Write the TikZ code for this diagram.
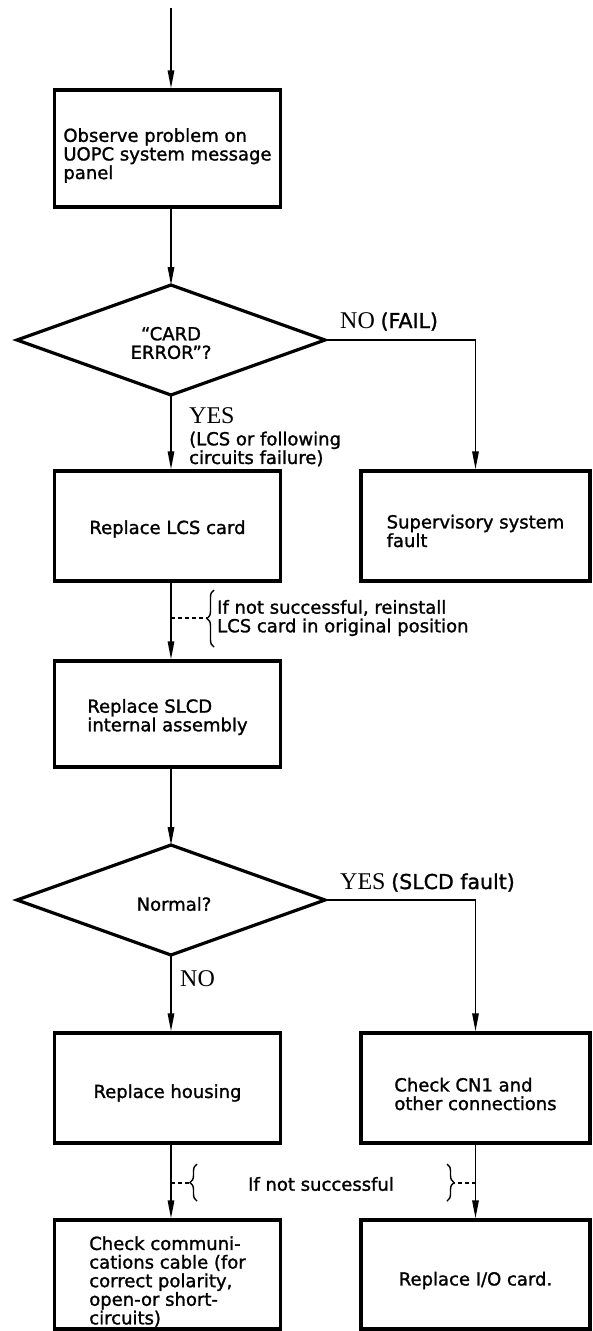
\documentclass[tikz,border=0pt]{standalone}
\usepackage{fontspec}
\setmainfont{DejaVu Sans}[FakeBold=1.4]
\newfontfamily\serf{Liberation Serif}
\usetikzlibrary{shapes.geometric,arrows.meta,decorations.pathreplacing}
\begin{document}
\begin{tikzpicture}[x=1pt,y=-1pt,
  txt/.style={font=\fontsize{18}{18.6}\selectfont},
  box/.style={draw,line width=3.4pt,minimum width=226pt,inner sep=0pt},
  rbox/.style={box,minimum width=229pt},
  btxt/.style={inner sep=0pt,align=left,txt},
  dia/.style={draw,diamond,shape aspect=2.8,line width=3.2pt,minimum width=308pt,minimum height=110pt,inner sep=0pt,outer sep=0pt},
  arr/.style={line width=1.5pt,-{Triangle[length=18pt,width=6.5pt]}},
  dsh/.style={line width=1.4pt,dash pattern=on 4pt off 3pt},
  brc/.style={line width=1.4pt,decorate,decoration={brace,amplitude=7pt}},
  lbl/.style={inner sep=0pt,anchor=west,align=left,txt},
  yn/.style={inner sep=0pt,anchor=base west,txt},
]
\useasboundingbox (0,0) rectangle (593,1331);
\newcommand{\yesno}[1]{{\serf\fontsize{24}{24}\selectfont #1}}
\newcommand{\lab}[1]{{\fontsize{20.5}{20.5}\selectfont #1}}

% boxes
\node[box,minimum height=117pt] (box1) at (167.5,148.5) {};
\node[btxt] (t1) at ([yshift=-7pt]box1.center) {Observe problem on\\UOPC system message\\panel};
\node[dia] (dia1) at (171,340) {};
\node[btxt,align=center] (td1) at ([yshift=-3pt]dia1.center) {``CARD\\ERROR''?};
\node[box,minimum height=110pt] (box2) at (167.5,526) {};
\node[btxt] (t2) at ([yshift=-3pt]box2.center) {Replace LCS card};
\node[rbox,minimum height=110pt] (box3) at (475.5,526) {};
\node[btxt] (t3) at ([yshift=-5pt]box3.center) {Supervisory system\\fault};
\node[box,minimum height=106pt] (box4) at (167.5,714) {};
\node[btxt] (t4) at ([yshift=-3pt]box4.center) {Replace SLCD\\internal assembly};
\node[dia] (dia2) at (171,900) {};
\node[btxt] (td2) at ([xshift=3pt,yshift=-4pt]dia2.center) {Normal?};
\node[box,minimum height=110pt] (box5) at (167.5,1088) {};
\node[btxt] (t5) at ([yshift=-5pt]box5.center) {Replace housing};
\node[rbox,minimum height=110pt] (box6) at (475.5,1088) {};
\node[btxt] (t6) at ([yshift=-6pt]box6.center) {Check CN1 and\\other connections};
\node[box,minimum height=109pt] (box7) at (167.5,1274.5) {};
\node[btxt] (t7) at ([yshift=-7pt]box7.center) {Check communi-\\cations cable (for\\correct polarity,\\open-or short-\\circuits)};
\node[rbox,minimum height=109pt] (box8) at (475.5,1274.5) {};
\node[btxt] (t8) at ([yshift=-6pt]box8.center) {Replace I/O card.};

% labels
\node[yn] (lno1) at (340,328) {\yesno{NO} \lab{(FAIL)}};
\node[lbl] (lyes1) at (189,416) {\yesno{YES}};
\node[lbl] (lcs) at (189,449) {(LCS or following\\circuits failure)};
\node[lbl] (reinst) at (217,618) {If not successful, reinstall\\LCS card in original position};
\node[yn] (lyes2) at (340,889) {\yesno{YES} \lab{(SLCD fault)}};
\node[lbl] (lno2) at (180,979) {\yesno{NO}};
\node[txt,inner sep=0pt] (notsucc) at (321,1184) {If not successful};

% connectors
\coordinate (start) at (171,8);
\draw[arr] (start) -- (start |- box1.north);
\draw[arr] (box1.south -| dia1.north) -- (dia1.north);
\draw[arr] (dia1.south) -- (dia1.south |- box2.north);
\draw[arr] (dia1.east) -| (box3.north);
\draw[arr] (box2.south -| dia1.south) -- (dia1.south |- box4.north);
\draw[arr] (box4.south -| dia2.north) -- (dia2.north);
\draw[arr] (dia2.south) -- (dia2.south |- box5.north);
\draw[arr] (dia2.east) -| (box6.north);
\draw[arr] (box5.south -| dia2.south) -- (dia2.south |- box7.north);
\draw[arr] (box6.south) -- (box8.north);

% braces and dashed ties
\coordinate (d1a) at (171,618);
\coordinate (d1b) at (207,618);
\draw[dsh] (d1a) -- (d1b);
\draw[brc] (214,647) -- (214,590);
\coordinate (d2a) at (171,1183);
\coordinate (d2b) at (190,1183);
\draw[dsh] (d2a) -- (d2b);
\draw[brc] (197,1201) -- (197,1164);
\coordinate (d3a) at (476,1183);
\coordinate (d3b) at (454,1183);
\draw[dsh] (d3a) -- (d3b);
\draw[brc] (447,1164) -- (447,1201);
\end{tikzpicture}
\end{document}
